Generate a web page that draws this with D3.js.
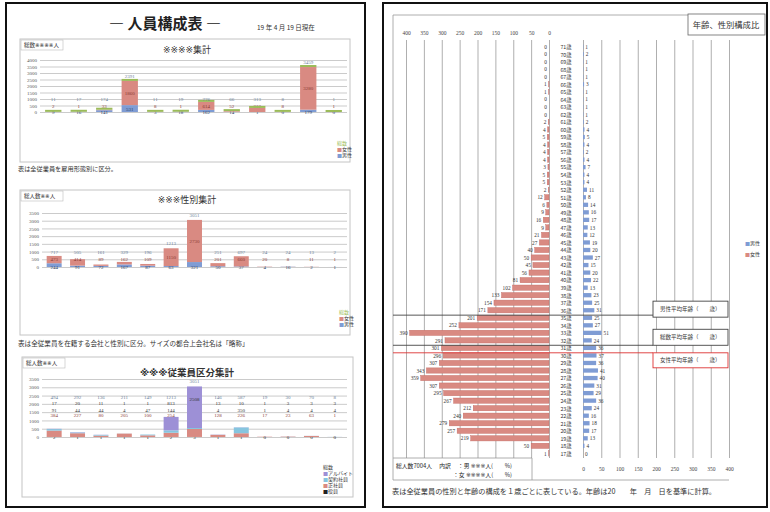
<!DOCTYPE html>
<html>
<head>
<meta charset="utf-8">
<script src="https://cdn.jsdelivr.net/npm/d3@7"></script>
<style>
  body { margin: 0; background: #fff; }
  svg { display: block; font-family: "Noto Sans CJK JP", "Noto Sans", sans-serif; }
</style>
</head>
<body>
<svg id="page" width="770" height="512"></svg>
<script>
// ---- data ----
const ticks4000 = [0, 500, 1000, 1500, 2000, 2500, 3000, 3500, 4000];
const ticks3500 = [0, 500, 1000, 1500, 2000, 2500, 3000, 3500];

// chart 1: employment type (12 groups)
const typeWomen = [2, 1, 33, 1860, 8, 1, 614, 52, 312, 8, 3280, 1];
const typeMen = [9, 16, 141, 531, 3, 18, 162, 14, 1, 0, 179, 0];

// chart 2: company x gender (13 groups)
const companyWomen = [473, 414, 89, 162, 109, 1150, 2730, 201, 660, 20, 8, 11, 1];
const companyMen = [244, 91, 72, 167, 87, 63, 321, 50, 37, 4, 16, 2, 1];

// chart 3: company x staff class (13 groups)
const staffOfficer = [2, 1, 1, 1, 1, 2, 3, 1, 1, 0, 0, 0, 0];
const staffRegular = [384, 227, 80, 205, 100, 254, 480, 128, 226, 17, 23, 63, 1];
const staffContract = [91, 44, 44, 4, 47, 144, 60, 4, 350, 1, 4, 4, 4];
const staffPartTime = [17, 20, 11, 1, 1, 813, 2508, 13, 10, 1, 3, 3, 3];

// pyramid
const pyramidAges = [71, 70, 69, 68, 67, 66, 65, 64, 63, 62, 61, 60, 59, 58, 57, 56, 55, 54, 53, 52,
  51, 50, 49, 48, 47, 46, 45, 44, 43, 42, 41, 40, 39, 38, 37, 36, 35, 34, 33, 32,
  31, 30, 29, 28, 27, 26, 25, 24, 23, 22, 21, 20, 19, 18, 17];
const pyramidWomen = [0, 0, 0, 0, 0, 1, 1, 0, 0, 0, 2, 4, 5, 4, 4, 4, 3, 5, 5, 2,
  12, 6, 9, 16, 9, 21, 27, 40, 50, 45, 56, 81, 102, 133, 154, 171, 201, 252, 390, 291,
  301, 296, 307, 343, 359, 307, 295, 267, 212, 240, 279, 257, 219, 50, 1];
const pyramidMen = [1, 2, 1, 1, 1, 3, 1, 1, 1, 1, 2, 4, 5, 4, 2, 4, 7, 4, 4, 11,
  8, 14, 16, 17, 13, 12, 19, 20, 27, 15, 20, 22, 13, 23, 25, 31, 25, 27, 51, 24,
  36, 37, 36, 41, 40, 31, 29, 36, 24, 16, 18, 17, 13, 4, 0];
const pyramidTicks = [0, 50, 100, 150, 200, 250, 300, 350, 400];

const RED = "#d98a82", BLUE = "#7f9cd4", GREEN = "#9bbb59";
const svg = d3.select("#page");

// the reference mark ※ is drawn from DejaVu so no colour font gets picked for it
function markText(t, str) {
  str.split(/(※+)/).filter(s => s).forEach(part => {
    const sp = t.append("tspan").text(part);
    if (part[0] === "※") sp.attr("font-family", "DejaVu Sans");
  });
  return t;
}

// ---- page frames ----
svg.append("rect").attr("x", 6).attr("y", 3).attr("width", 359).attr("height", 504)
  .attr("fill", "none").attr("stroke", "#111").attr("stroke-width", 2);
svg.append("rect").attr("x", 383).attr("y", 3).attr("width", 384).attr("height", 504)
  .attr("fill", "none").attr("stroke", "#111").attr("stroke-width", 2);

svg.append("text").attr("x", 165).attr("y", 29).attr("text-anchor", "middle")
  .attr("font-size", 15).attr("font-weight", "bold").attr("fill", "#222").text("―  人員構成表  ―");
svg.append("text").attr("x", 257).attr("y", 30).attr("font-size", 6.5).attr("fill", "#333")
  .text("19 年 4 月 19 日現在");

function stackedChart(o) {
  const g = svg.append("g");
  g.append("rect").attr("x", o.frame[0]).attr("y", o.frame[1]).attr("width", o.frame[2]).attr("height", o.frame[3])
    .attr("fill", "#fff").attr("stroke", "#c4c4c4");
  g.append("rect").attr("x", o.frame[0] + 1).attr("y", o.frame[1] + 1).attr("width", 42).attr("height", 10)
    .attr("fill", "#fff").attr("stroke", "#bbb").attr("stroke-width", 0.6);
  markText(g.append("text").attr("x", o.frame[0] + 4).attr("y", o.frame[1] + 8).attr("font-size", 5.5)
    .attr("fill", "#333"), o.boxLabel);
  markText(g.append("text").attr("x", 187).attr("y", o.titleY).attr("text-anchor", "middle")
    .attr("font-size", o.titleSize).attr("font-weight", o.titleWeight || "normal").attr("fill", "#333"), o.title);

  const n = o.series[0].values.length;
  const x = d3.scaleBand().domain(d3.range(n)).range([o.plot[0], o.plot[2]]).paddingInner(0.36).paddingOuter(0.2);
  const y = d3.scaleLinear().domain([0, o.max]).range([o.plot[3], o.plot[1]]);

  g.append("g").attr("transform", `translate(${o.plot[0]},0)`)
    .call(d3.axisLeft(y).tickValues(o.ticks).tickFormat(d3.format("d"))
      .tickSize(-(o.plot[2] - o.plot[0])).tickPadding(3))
    .call(a => a.select(".domain").remove())
    .call(a => a.selectAll("line").attr("stroke", "#a8a8a8").attr("stroke-width", 0.6))
    .call(a => a.selectAll("text").attr("font-size", 5).attr("fill", "#555").attr("font-family", "Liberation Serif"));

  const rows = d3.range(n).map(i => {
    const r = {};
    o.series.forEach(s => { r[s.key] = s.values[i]; });
    return r;
  });
  const stacked = d3.stack().keys(o.series.map(s => s.key))(rows);

  stacked.forEach((layer, li) => {
    const s = o.series[li];
    g.append("g").selectAll("rect").data(layer).join("rect")
      .attr("x", (d, i) => x(i)).attr("width", x.bandwidth())
      .attr("y", d => y(d[1])).attr("height", d => y(d[0]) - y(d[1]))
      .attr("fill", s.color);
    // big segments carry their label inside, the rest sit on a fixed row
    g.append("g").selectAll("text").data(layer).join("text")
      .attr("x", (d, i) => x(i) + x.bandwidth() / 2)
      .attr("y", d => (d[1] - d[0] > o.inside ? y(d[1] - (d[1] - d[0]) * o.insideAt) : y(s.row)) + 2)
      .attr("text-anchor", "middle").attr("font-size", 5).attr("fill", s.labelColor)
      .attr("font-family", "Liberation Serif")
      .text((d, i) => s.values[i]);
  });

  const totals = rows.map(r => o.series.reduce((a, s) => a + r[s.key], 0));
  if (o.cap) {
    g.append("g").selectAll("rect").data(totals).join("rect")
      .attr("x", (d, i) => x(i)).attr("width", x.bandwidth())
      .attr("y", d => y(d) - 2).attr("height", 2).attr("fill", o.cap);
  }
  g.append("g").selectAll("text").data(totals).join("text")
    .attr("x", (d, i) => x(i) + x.bandwidth() / 2)
    .attr("y", d => (d > o.totalRow - 200 ? y(d) - 3 : y(o.totalRow) + 2))
    .attr("text-anchor", "middle").attr("font-size", 5).attr("fill", "#6a7f99")
    .attr("font-family", "Liberation Serif")
    .text(d => d);

  const lg = g.append("g").attr("font-size", 5);
  o.legend.forEach((l, i) => {
    const t = lg.append("text").attr("x", o.legendX).attr("y", o.legendY + i * 6);
    if (l.color) t.append("tspan").attr("fill", l.color).text("■");
    t.append("tspan").attr("fill", l.text || "#333").text(l.name);
  });
}

stackedChart({
  frame: [20, 39, 330, 123], plot: [40, 60, 347, 112], max: 4000, ticks: ticks4000,
  boxLabel: "総数※※※※人", title: "※※※※集計", titleY: 53, titleSize: 9,
  inside: 400, insideAt: 0.5, totalRow: 1000, cap: GREEN,
  series: [
    { key: "men", values: typeMen, color: BLUE, row: 0, labelColor: "#2a3d66" },
    { key: "women", values: typeWomen, color: RED, row: 500, labelColor: "#8a3a33" }
  ],
  legend: [{ name: "総数", text: GREEN }, { name: "女性", color: RED }, { name: "男性", color: BLUE }],
  legendX: 337, legendY: 145
});
svg.append("text").attr("x", 18).attr("y", 171).attr("font-size", 6.2).attr("fill", "#333")
  .text("表は全従業員を雇用形態別に区分。");

stackedChart({
  frame: [20, 190, 330, 145], plot: [42, 213, 347, 267], max: 3500, ticks: ticks3500,
  boxLabel: "総人数※※人", title: "※※※性別集計", titleY: 203, titleSize: 9,
  inside: 800, insideAt: 0.5, totalRow: 1000,
  series: [
    { key: "men", values: companyMen, color: BLUE, row: 0, labelColor: "#2a3d66" },
    { key: "women", values: companyWomen, color: RED, row: 500, labelColor: "#8a3a33" }
  ],
  legend: [{ name: "総数", text: GREEN }, { name: "女性", color: RED }, { name: "男性", color: BLUE }],
  legendX: 339, legendY: 314
});
svg.append("text").attr("x", 18).attr("y", 346).attr("font-size", 6.6).attr("fill", "#333")
  .text("表は全従業員を在籍する会社と性別に区分。サイズの都合上会社名は「略称」");

stackedChart({
  frame: [22, 357, 331, 140], plot: [42, 379, 347, 437], max: 3500, ticks: ticks3500,
  boxLabel: "総人数※※人", title: "※※※従業員区分集計", titleY: 376, titleSize: 9.5,
  titleWeight: "bold", inside: 1500, insideAt: 0.3, totalRow: 2400,
  series: [
    { key: "officer", values: staffOfficer, color: "#34508a", row: 0, labelColor: "#222" },
    { key: "regular", values: staffRegular, color: RED, row: 1300, labelColor: "#8a3a33" },
    { key: "contract", values: staffContract, color: "#86c5df", row: 1600, labelColor: "#333" },
    { key: "parttime", values: staffPartTime, color: "#9d90d6", row: 2050, labelColor: "#333" }
  ],
  legend: [{ name: "総数" }, { name: "アルバイト", color: "#9d90d6" }, { name: "契約社員", color: "#86c5df" },
    { name: "正社員", color: RED }, { name: "役員", color: "#222" }],
  legendX: 323, legendY: 469
});

// ---- pyramid page ----
const pg = svg.append("g");
const gridTop = 40, gridBottom = 458;
const xL = d3.scaleLinear().domain([0, 400]).range([549, 406]);
const xR = d3.scaleLinear().domain([0, 400]).range([583, 729]);
const yA = d3.scaleBand().domain(pyramidAges).range([44, 456]).paddingInner(0.3);

pg.append("path").attr("d", `M393,${gridBottom + 22}V15H688`).attr("fill", "none").attr("stroke", "#999").attr("stroke-width", 0.8);
pg.append("path").attr("d", `M393,${gridBottom + 22}H729M393,${gridBottom}H532V${gridBottom + 22}`)
  .attr("fill", "none").attr("stroke", "#999").attr("stroke-width", 0.8);

pg.append("g").attr("transform", `translate(0,${gridTop})`)
  .call(d3.axisTop(xL).tickValues(pyramidTicks).tickSize(-(gridBottom - gridTop)).tickPadding(5))
  .call(a => a.select(".domain").remove())
  .call(a => a.selectAll("line").attr("stroke", "#8c8c8c").attr("stroke-width", 0.7))
  .call(a => a.selectAll("text").attr("font-size", 5.5).attr("fill", "#444").attr("font-family", "Liberation Serif"));
pg.append("g").attr("transform", `translate(0,${gridBottom})`)
  .call(d3.axisBottom(xR).tickValues(pyramidTicks).tickSize(-(gridBottom - gridTop)).tickPadding(9))
  .call(a => a.select(".domain").remove())
  .call(a => a.selectAll("line").attr("stroke", "#8c8c8c").attr("stroke-width", 0.7))
  .call(a => a.selectAll("text").attr("font-size", 5.5).attr("fill", "#444").attr("font-family", "Liberation Serif"));

pg.append("rect").attr("x", 688).attr("y", 14).attr("width", 77).attr("height", 21)
  .attr("fill", "#fff").attr("stroke", "#666").attr("stroke-width", 0.8);
pg.append("text").attr("x", 726).attr("y", 28).attr("text-anchor", "middle").attr("font-size", 8.3).attr("fill", "#333")
  .text("年齢、性別構成比");

pg.append("g").selectAll("rect").data(pyramidWomen).join("rect")
  .attr("x", d => xL(d)).attr("width", d => xL(0) - xL(d))
  .attr("y", (d, i) => yA(pyramidAges[i])).attr("height", yA.bandwidth())
  .attr("fill", RED).attr("stroke", "#c46a63").attr("stroke-width", 0.4);
pg.append("g").selectAll("rect").data(pyramidMen).join("rect")
  .attr("x", xR(0)).attr("width", d => xR(d) - xR(0))
  .attr("y", (d, i) => yA(pyramidAges[i]) + 0.5).attr("height", yA.bandwidth() - 1)
  .attr("fill", BLUE);

const lab = pg.append("g").attr("font-size", 5.3).attr("fill", "#333").attr("font-family", "Liberation Serif");
lab.selectAll("text.w").data(pyramidWomen).join("text").attr("class", "w")
  .attr("x", d => xL(d) - 2).attr("y", (d, i) => yA(pyramidAges[i]) + yA.bandwidth() - 0.5)
  .attr("text-anchor", "end").text(d => d);
lab.selectAll("text.m").data(pyramidMen).join("text").attr("class", "m")
  .attr("x", d => xR(d) + 2).attr("y", (d, i) => yA(pyramidAges[i]) + yA.bandwidth() - 0.5)
  .text(d => d);
pg.append("g").attr("font-size", 5.3).attr("fill", "#333")
  .selectAll("text").data(pyramidAges).join("text")
  .attr("x", 566).attr("y", d => yA(d) + yA.bandwidth() - 0.3).attr("text-anchor", "middle")
  .text(d => d + "歳");

// average-age markers
const avgMarks = [
  { name: "男性平均年齢（　　歳）", y: yA(36) + yA.step(), box: [-14, 16], color: "#444" },
  { name: "総数平均年齢（　　歳）", y: yA(32) + yA.step(), box: [-16, 16], color: "#444" },
  { name: "女性平均年齢（　　歳）", y: yA(31) + yA.step(), box: [0, 15], color: "#d33" }
];
avgMarks.forEach(m => {
  pg.append("line").attr("x1", 393).attr("x2", 653).attr("y1", m.y).attr("y2", m.y)
    .attr("stroke", m.color).attr("stroke-width", 0.9);
  pg.append("rect").attr("x", 653).attr("y", m.y + m.box[0]).attr("width", 75).attr("height", m.box[1])
    .attr("fill", "#fff").attr("stroke", m.color).attr("stroke-width", 0.9);
  pg.append("text").attr("x", 660).attr("y", m.y + m.box[0] + m.box[1] / 2 + 2).attr("font-size", 5.5)
    .attr("fill", "#333").text(m.name);
});

pg.append("text").attr("x", 745).attr("y", 245).attr("font-size", 5)
  .call(t => { t.append("tspan").attr("fill", BLUE).text("■"); t.append("tspan").attr("fill", "#333").text("男性"); });
pg.append("text").attr("x", 745).attr("y", 256).attr("font-size", 5)
  .call(t => { t.append("tspan").attr("fill", RED).text("■"); t.append("tspan").attr("fill", "#333").text("女性"); });

markText(pg.append("text").attr("x", 396).attr("y", 468).attr("font-size", 5.8).attr("fill", "#222"),
  "総人数7004人　 内訳 　：男 ※※※人(　　%)");
markText(pg.append("text").attr("x", 453).attr("y", 477).attr("font-size", 5.8).attr("fill", "#222"),
  "：女 ※※※※人(　　%)");
pg.append("text").attr("x", 392).attr("y", 494).attr("font-size", 7.2).attr("fill", "#333")
  .text("表は全従業員の性別と年齢の構成を１歳ごとに表している。年齢は20　　年　月　日を基準に計算。");
</script>
</body>
</html>
